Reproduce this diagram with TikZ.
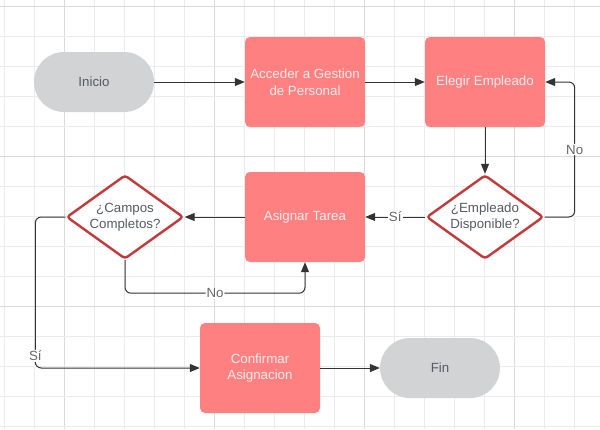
\documentclass[tikz,border=0pt]{standalone}
\usepackage{fontspec}
\setmainfont{Liberation Sans}
\usetikzlibrary{arrows.meta,shapes.geometric}
\definecolor{gridminor}{HTML}{EBEBEB}
\definecolor{gridmajor}{HTML}{DADADA}
\definecolor{boxred}{HTML}{FF8080}
\definecolor{boxtext}{HTML}{FFECEC}
\definecolor{termgray}{HTML}{D1D3D4}
\definecolor{darktext}{HTML}{575B61}
\definecolor{diamred}{HTML}{C23A3A}
\definecolor{conncol}{HTML}{333333}
\definecolor{labcol}{HTML}{666666}
\tikzset{
  base/.style={font=\fontsize{13.3}{16.5}\selectfont, align=center},
  procbox/.style={base, rectangle, rounded corners=5pt, fill=boxred, text=boxtext,
    minimum width=120pt, minimum height=90pt, inner sep=0pt},
  term/.style={base, rectangle, rounded corners=30pt, fill=termgray, text=darktext,
    minimum width=120pt, minimum height=60pt, inner sep=0pt},
  decision/.style={base, diamond, aspect=1.395, draw=diamred, line width=2.4pt,
    fill=white, text=darktext, rounded corners=3pt, line join=round,
    minimum width=117pt, minimum height=84pt, inner sep=0pt},
  conn/.style={draw=conncol, line width=1pt, -{Triangle[length=10pt,width=8pt]}},
  lab/.style={base, text=labcol, fill=white, inner sep=1pt},
  minorline/.style={draw=gridminor, line width=1pt},
  majorline/.style={draw=gridmajor, line width=1pt}
}
\begin{document}
\begin{tikzpicture}[x=1pt,y=-1pt]
\useasboundingbox (0,0) rectangle (600,429);
\fill[white] (0,0) rectangle (600,429);
% grid
\foreach \i in {0,...,19} {
  \pgfmathtruncatemacro{\m}{mod(\i,5)}
  \ifnum\m=2 \draw[majorline] ({4.7+30*\i},0) -- ({4.7+30*\i},429);
  \else \draw[minorline] ({4.7+30*\i},0) -- ({4.7+30*\i},429); \fi
}
\foreach \j in {0,...,14} {
  \pgfmathtruncatemacro{\m}{mod(\j,5)}
  \ifnum\m=0 \draw[majorline] (0,{6.5+30*\j}) -- (600,{6.5+30*\j});
  \else \draw[minorline] (0,{6.5+30*\j}) -- (600,{6.5+30*\j}); \fi
}
% nodes
\node[term] (ini) at (94,82) {Inicio};
\node[procbox] (acc) at (305,82) {Acceder a Gestion\\de Personal};
\node[procbox] (ele) at (485,82) {Elegir Empleado};
\node[decision] (disp) at (485,217) {¿Empleado\\Disponible?};
\node[procbox] (asig) at (305,217) {Asignar Tarea};
\node[decision] (camp) at (125,217) {¿Campos\\Completos?};
\node[procbox] (conf) at (260,368) {Confirmar\\Asignacion};
\node[term] (fin) at (440,368) {Fin};
% connectors
\draw[conn] (ini.east) -- (acc.west);
\draw[conn] (acc.east) -- (ele.west);
\draw[conn] (ele.south) -- (disp.north);
\draw[conn, rounded corners=6pt] (disp.east) -- ++(30,0) |- node[pos=0.25, lab] {No} (ele.east);
\draw[conn] (disp.west) -- node[lab] {Sí} (asig.east);
\draw[conn] (asig.west) -- (camp.east);
\draw[conn, rounded corners=6pt] (camp.south) -- ++(0,33) -| node[pos=0.25, lab] {No} (asig.south);
\draw[conn, rounded corners=6pt] (camp.west) -- ++(-30,0) |- node[pos=0.46, lab] {Sí} (conf.west);
\draw[conn] (conf.east) -- (fin.west);
\end{tikzpicture}
\end{document}
